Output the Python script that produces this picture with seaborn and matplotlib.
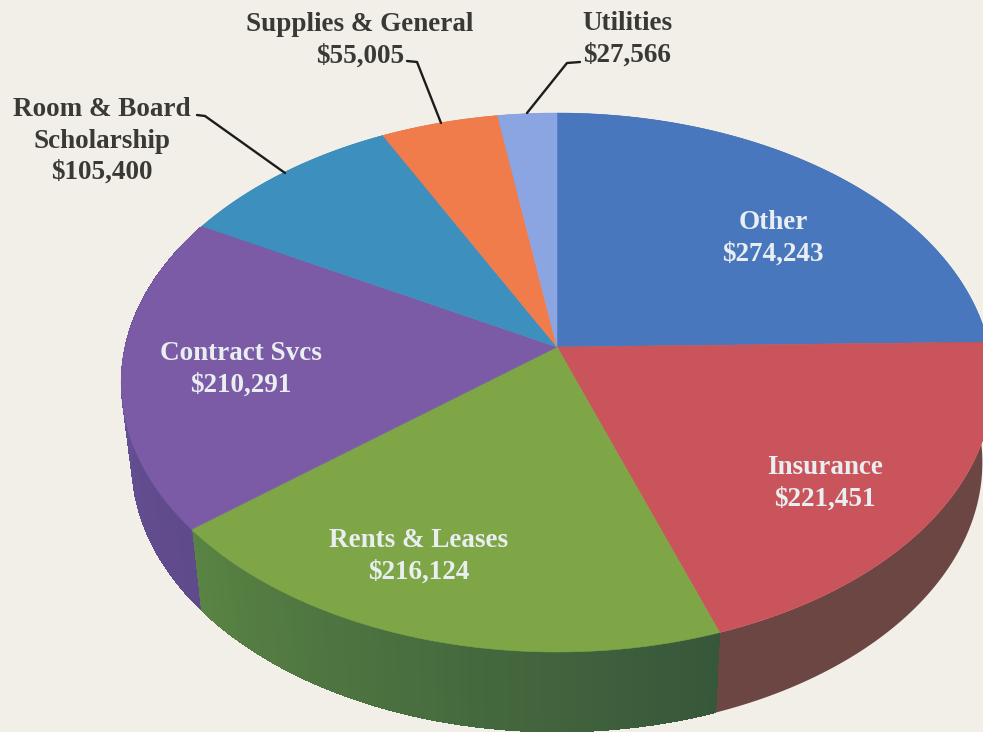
import numpy as np
import pandas as pd
import matplotlib
matplotlib.use("Agg")
import matplotlib.pyplot as plt
import seaborn as sns

# Values as printed on the chart, clockwise from 12 o'clock
categories = ["Other", "Insurance", "Rents & Leases", "Contract Svcs",
              "Room & Board\nScholarship", "Supplies & General", "Utilities"]
amounts = [274243, 221451, 216124, 210291, 105400, 55005, 27566]

top_colors = ["#4877bd", "#c9545b", "#7ea546", "#7c5ba6", "#3d8fbe", "#f07c4b", "#8ba5e2"]
# side wall shade at the start and the end of each slice
side_start = ["#2f4f7f", "#6b4642", "#37573a", "#5f4a8c", "#2f6f94", "#b85f38", "#6d81b0"]
side_end = ["#2f4f7f", "#6b4642", "#5a8444", "#6a5499", "#2f6f94", "#b85f38", "#6d81b0"]

BG = "#f2efe9"
TEXT_DARK = "#3a3a34"
TEXT_LIGHT = "#e9eef0"

# pie geometry in pixels, the tilt is a perspective foreshortening
CX, CY = 557, 347
RX, RY = 432, 264.8
TILT = 0.1318
DEPTH = 80


def project(theta, xscale=1.0, drop=0):
    # theta clockwise from top, radians
    w = 1 + TILT * np.cos(theta)
    x = CX + xscale * RX * np.sin(theta) / w
    y = CY - RY * np.cos(theta) / w + drop
    return x, y


def side_patch(a):
    xt, yt = project(a)
    xb, yb = project(a, xscale=0.976, drop=DEPTH)
    return np.r_[xt, xb[::-1]], np.r_[yt, yb[::-1]]


sns.set_theme(style="white")
plt.rcParams["font.family"] = ["Liberation Serif", "DejaVu Serif"]

df = pd.DataFrame({"category": categories, "amount": amounts})
df["frac"] = df["amount"] / df["amount"].sum()
df["end"] = df["frac"].cumsum() * 2 * np.pi
df["start"] = df["end"].shift(1).fillna(0)

fig = plt.figure(figsize=(9.83, 7.32), dpi=100, facecolor=BG)
ax = fig.add_axes([0, 0, 1, 1])
ax.set_xlim(0, 983)
ax.set_ylim(732, 0)
ax.axis("off")

palette = sns.color_palette(top_colors)

# side wall first, the top faces cover the far half
for i, row in df.iterrows():
    c0 = np.array(matplotlib.colors.to_rgb(side_start[i]))
    c1 = np.array(matplotlib.colors.to_rgb(side_end[i]))
    # smooth base so the outer edge stays antialiased
    xs, ys = side_patch(np.linspace(row["start"], row["end"], 120))
    ax.fill(xs, ys, color=(c0 + c1) / 2, lw=0, zorder=1)
    if side_start[i] == side_end[i]:
        continue
    steps = max(int((row["end"] - row["start"]) * 60), 2)
    angles = np.linspace(row["start"], row["end"], steps + 1)
    for j in range(steps):
        xs, ys = side_patch(np.linspace(angles[j], angles[j + 1], 3))
        t = j / steps
        ax.fill(xs, ys, color=c0 * (1 - t) + c1 * t, lw=0, antialiased=False, zorder=1.5)

for i, row in df.iterrows():
    a = np.linspace(row["start"], row["end"], 120)
    xs, ys = project(a)
    ax.fill(np.r_[CX, xs], np.r_[CY, ys], color=palette[i], lw=0.4, zorder=2)

# labels inside the pie
inside = {"Other": (773, 220), "Insurance": (825, 465), "Rents & Leases": (419, 538),
          "Contract Svcs": (241, 351)}
# labels outside
outside = {"Room & Board\nScholarship": (102, 107), "Supplies & General": (360, 22),
           "Utilities": (627, 21)}

for _, row in df.iterrows():
    name = row["category"]
    pos = inside.get(name, outside.get(name))
    color = TEXT_LIGHT if name in inside else TEXT_DARK
    lines = name.split("\n") + [f"${row['amount']:,}"]
    for k, line in enumerate(lines):
        ax.text(pos[0], pos[1] + 2.5 + k * 31.5, line, ha="center", va="center", color=color,
                fontsize=19.5, fontweight="bold", zorder=4)

# leader lines
ax.plot([197, 205, 285], [115, 116, 173], color="#1c1c1c", lw=1.7, zorder=3)
ax.plot([407, 417, 441], [61, 62, 123], color="#1c1c1c", lw=1.7, zorder=3)
ax.plot([580, 567, 527], [62, 63, 113], color="#1c1c1c", lw=1.7, zorder=3)

fig.savefig("out.png", dpi=100, facecolor=BG)
